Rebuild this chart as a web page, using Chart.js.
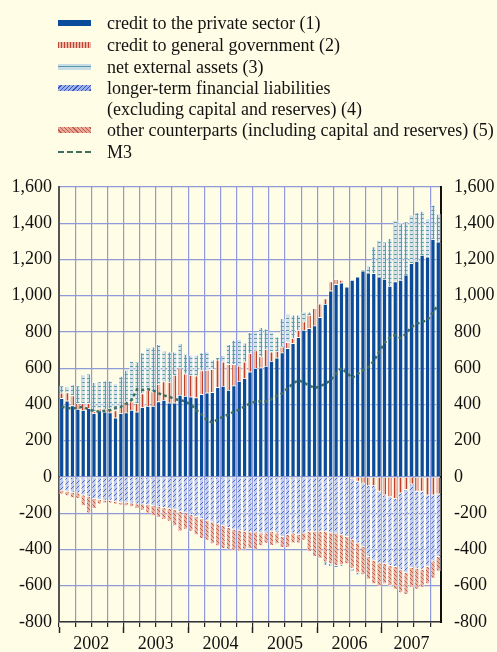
<!DOCTYPE html>
<html>
<head>
<meta charset="utf-8">
<script src="https://cdn.jsdelivr.net/npm/chart.js@4.4.1/dist/chart.umd.min.js"></script>
<style>
  html, body { margin:0; padding:0; background:#fffde6; }
  body { width:497px; height:652px; position:relative; overflow:hidden; font-family:"Liberation Serif","DejaVu Serif",serif; }
  #c { position:absolute; left:0; top:0; }
  .legend { position:absolute; left:0; top:0; }
  .row { position:absolute; left:58px; height:20px; font-size:18px; line-height:20px; color:#111; white-space:nowrap; }
  .sw { position:absolute; left:0; width:33px; }
  .txt { position:absolute; left:49px; top:0; }
</style>
</head>
<body>
<canvas id="c" width="497" height="652"></canvas>
<div class="legend">
  <div class="row" style="top:13px"><div class="sw" style="top:7px;height:6px;background:#0b4b9c"></div><div class="txt">credit to the private sector (1)</div></div>
  <div class="row" style="top:35px"><div class="sw" style="top:7px;height:6px;background:repeating-linear-gradient(90deg,#c2402e 0 1px,#eab6a6 1px 3px)"></div><div class="txt">credit to general government (2)</div></div>
  <div class="row" style="top:57px"><div class="sw" style="top:7px;height:6px;background:linear-gradient(180deg,#c9dde6 0 2px,#5a98aa 2px 3px,#c9dde6 3px 6px)"></div><div class="txt">net external assets (3)</div></div>
  <div class="row" style="top:78px"><div class="sw" style="top:7px;height:6px;background:repeating-linear-gradient(135deg,#9db0e8 0 2px,#3556c0 2px 3px)"></div><div class="txt">longer-term financial liabilities</div></div>
  <div class="row" style="top:99px"><div class="txt">(excluding capital and reserves) (4)</div></div>
  <div class="row" style="top:120px"><div class="sw" style="top:7px;height:6px;background:repeating-linear-gradient(45deg,#e6a898 0 2px,#c45a48 2px 3px)"></div><div class="txt">other counterparts (including capital and reserves) (5)</div></div>
  <div class="row" style="top:142px"><div class="sw" style="top:9px;height:0;border-top:2px dashed #3e6e60"></div><div class="txt">M3</div></div>
</div>
<script>
// ---- data (EUR billions, annual flows) ----
const categories = [
 '2002-01','2002-02','2002-03','2002-04','2002-05','2002-06','2002-07','2002-08','2002-09','2002-10','2002-11','2002-12',
 '2003-01','2003-02','2003-03','2003-04','2003-05','2003-06','2003-07','2003-08','2003-09','2003-10','2003-11','2003-12',
 '2004-01','2004-02','2004-03','2004-04','2004-05','2004-06','2004-07','2004-08','2004-09','2004-10','2004-11','2004-12',
 '2005-01','2005-02','2005-03','2005-04','2005-05','2005-06','2005-07','2005-08','2005-09','2005-10','2005-11','2005-12',
 '2006-01','2006-02','2006-03','2006-04','2006-05','2006-06','2006-07','2006-08','2006-09','2006-10','2006-11','2006-12',
 '2007-01','2007-02','2007-03','2007-04','2007-05','2007-06','2007-07','2007-08','2007-09','2007-10','2007-11'];

const privateCredit = [
 434,421,394,375,370,379,351,366,360,355,327,351,
 355,370,360,384,392,392,416,425,410,410,452,447,
 443,438,456,465,467,495,502,480,504,530,544,581,
 600,603,612,640,658,686,710,738,771,811,820,835,
 881,954,1028,1063,1072,1050,1087,1105,1137,1127,1124,1105,
 1092,1054,1078,1087,1115,1179,1192,1225,1215,1311,1298];

const govCredit = [
 31,45,55,31,37,28,10,10,15,25,40,40,
 60,46,46,77,88,79,97,101,114,153,151,123,
 120,120,131,125,127,151,134,142,118,83,92,101,
 97,61,94,51,37,33,33,28,40,46,74,96,
 74,31,50,28,15,0,-10,-25,-35,-50,-50,-80,
 -100,-110,-120,-90,-70,-40,-80,-80,-100,-100,-95];

const netExternal = [
 40,34,61,99,158,163,161,150,156,151,148,166,
 175,224,230,225,235,248,219,171,167,128,135,109,
 110,115,99,101,52,14,37,110,134,148,104,116,
 105,162,112,111,79,156,156,129,84,55,18,3,
 3,-20,-15,-10,-10,0,-15,-10,5,37,147,203,
 206,263,340,313,294,267,268,243,212,190,153];

const longerTerm = [
 -75,-80,-85,-90,-100,-110,-120,-125,-130,-130,-135,-140,
 -140,-145,-150,-150,-155,-160,-165,-170,-175,-180,-190,-200,
 -210,-220,-230,-240,-250,-260,-270,-280,-290,-295,-300,-305,
 -305,-310,-311,-301,-310,-329,-320,-310,-320,-310,-301,-301,
 -300,-300,-310,-310,-320,-330,-338,-340,-349,-390,-410,-396,
 -380,-380,-375,-423,-460,-460,-425,-430,-395,-365,-345];

const otherCounterparts = [
 -20,-25,-30,-30,-60,-90,-55,-25,-15,-15,-15,-15,
 -20,-20,-25,-35,-45,-55,-60,-65,-70,-90,-110,-90,
 -90,-100,-110,-110,-120,-120,-125,-120,-115,-115,-100,-90,
 -95,-70,-55,-78,-60,-61,-70,-55,-45,-40,-111,-139,
 -150,-170,-170,-180,-165,-150,-157,-165,-156,-125,-130,-129,
 -110,-110,-125,-127,-120,-110,-115,-100,-95,-95,-80];

const m3 = [
 388,380,379,382,388,372,365,360,365,370,380,388,
 405,425,484,480,484,478,462,450,443,430,425,416,
 400,370,345,315,300,318,333,345,360,372,390,405,
 416,418,416,430,448,462,490,515,535,520,505,491,
 500,515,535,570,601,575,546,570,590,607,640,690,
 740,770,784,767,790,828,845,855,866,910,949];

const yearLabels = ['2002','2003','2004','2005','2006','2007'];
const yearStarts = [0,12,24,36,48,60];
const yTickStep = 200, yMin = -800, yMax = 1600;

// ---- patterns ----
function pat(w, h, bg, fg, pts) {
  const c = document.createElement('canvas'); c.width = w; c.height = h;
  const g = c.getContext('2d'); g.fillStyle = bg; g.fillRect(0,0,w,h);
  g.fillStyle = fg; pts.forEach(p => g.fillRect(p[0], p[1], p[2]||1, p[3]||1));
  return g.createPattern(c, 'repeat');
}
const ctx = document.getElementById('c').getContext('2d');
const pGov = pat(3, 3, '#ebb8a8', '#c13f2d', [[1,0,1,3]]);
const pNea = pat(4, 4, '#d3e3ea', '#5e9bad', [[0,2,4,1],[1,0,1,4]]);
const pLtfl = pat(5, 5, '#c3cdf1', '#4a69c8', [[0,4],[1,3],[2,2],[3,1],[4,0]]);
const pOther = pat(4, 4, '#e9b1a2', '#c65d4a', [[0,0],[1,1],[2,2],[3,3]]);

const grid = '#8f9bd8';
const serif = { family: "'Liberation Serif', 'DejaVu Serif', serif", size: 18 };
const barCommon = { stack: 'cp', order: 2, borderColor: '#ffffff', borderWidth: 0.7, barPercentage: 0.86, categoryPercentage: 1.0 };

// year axis: boundaries (ticks only) and centres (labels only), in month units
const n = categories.length;
const yearCentres = yearStarts.map((s, i) => (s + Math.min(s + 12, n)) / 2);
const yearTicks = [...yearStarts, ...yearCentres].sort((a, b) => a - b);
const labelAt = {}; yearCentres.forEach((v, i) => { labelAt[v] = yearLabels[i]; });

new Chart(ctx, {
  type: 'bar',
  data: {
    labels: categories,
    datasets: [
      { ...barCommon, label: 'credit to the private sector (1)', data: privateCredit, backgroundColor: '#0b4b9c' },
      { ...barCommon, label: 'credit to general government (2)', data: govCredit, backgroundColor: pGov },
      { ...barCommon, label: 'longer-term financial liabilities (excluding capital and reserves) (4)', data: longerTerm, backgroundColor: pLtfl },
      { ...barCommon, label: 'other counterparts (including capital and reserves) (5)', data: otherCounterparts, backgroundColor: pOther },
      { ...barCommon, label: 'net external assets (3)', data: netExternal, backgroundColor: pNea },
      { type: 'line', label: 'M3', data: m3, stack: 'm3', order: 0, borderColor: '#3e6e60', borderWidth: 2.5,
        borderDash: [3, 3], pointRadius: 0, fill: false, tension: 0 }
    ]
  },
  options: {
    responsive: false, animation: false,
    layout: { padding: { top: 187, left: 0, right: 0, bottom: 0 } },
    plugins: { legend: { display: false }, tooltip: { enabled: false } },
    scales: {
      x: {
        type: 'category', stacked: true, offset: true, position: 'bottom',
        grid: { offset: true, color: c => (c.index % 3 === 0 ? grid : 'rgba(0,0,0,0)'),
                tickColor: c => (c.index % 3 === 0 ? '#222' : 'rgba(0,0,0,0)'), tickLength: 5, tickWidth: 1.2, lineWidth: 1.2 },
        ticks: { display: false },
        border: { color: '#333', width: 1.5 },
        afterFit: a => { a.height = 5; }
      },
      xYear: {
        type: 'linear', position: 'bottom', min: 0, max: n, offset: false,
        afterBuildTicks: a => { a.ticks = yearTicks.map(v => ({ value: v })); },
        grid: { offset: false, drawOnChartArea: false, tickLength: 6, tickWidth: 1.5,
                tickColor: c => (c.tick && labelAt[c.tick.value] === undefined ? '#222' : 'rgba(0,0,0,0)') },
        border: { display: false },
        ticks: { autoSkip: false, maxRotation: 0, color: '#111', font: serif, padding: 0,
                 callback: v => (labelAt[v] || '') },
        afterFit: a => { a.height = 25; }
      },
      y: {
        stacked: true, min: yMin, max: yMax, position: 'left',
        ticks: { stepSize: yTickStep, color: '#111', font: serif, padding: 7 },
        grid: { color: grid, drawTicks: false, lineWidth: 1.2 },
        border: { color: '#555', width: 2 },
        afterFit: a => { a.width = 59; }
      },
      y2: {
        min: yMin, max: yMax, position: 'right',
        ticks: { stepSize: yTickStep, color: '#111', font: serif, padding: 13 },
        grid: { drawOnChartArea: false, drawTicks: false },
        border: { color: '#111', width: 2 },
        afterFit: a => { a.width = 56; }
      }
    }
  }
});
</script>
</body>
</html>
